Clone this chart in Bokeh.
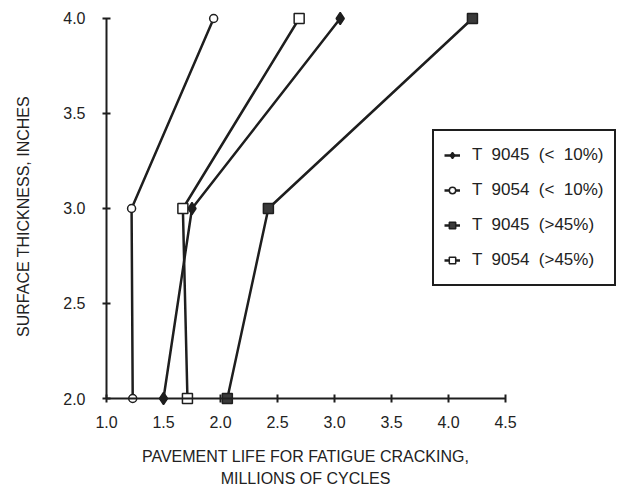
from bokeh.plotting import figure
from bokeh.models import (ColumnDataSource, FixedTicker, NumeralTickFormatter,
                          Legend, LegendItem, Label, Range1d, LinearAxis)
from bokeh.embed import file_html
from bokeh.resources import INLINE
import math

# Surface thickness (inches) for each measured point
thickness = [2.0, 3.0, 4.0]

# Pavement life for fatigue cracking, millions of cycles
t9045_lt10 = [1.50, 1.75, 3.05]
t9054_lt10 = [1.23, 1.22, 1.94]
t9045_gt45 = [2.06, 2.42, 4.21]
t9054_gt45 = [1.71, 1.67, 2.69]

series_labels = ["T  9045  (<  10%)", "T  9054  (<  10%)",
                 "T  9045  (>45%)", "T  9054  (>45%)"]

x_ticks = [1.0, 1.5, 2.0, 2.5, 3.0, 3.5, 4.0, 4.5]
y_ticks = [2.0, 2.5, 3.0, 3.5, 4.0]

INK = "#1e1e1e"
TEXT = "#222222"
FONT = "Liberation Sans"

# The frame fills the whole canvas; the axes sit at fixed data positions.
p = figure(width=625, height=487, output_backend="svg", toolbar_location=None,
           x_range=Range1d(0.0702, 5.5526), y_range=Range1d(1.5316, 4.0947),
           min_border=0, x_axis_location=None, y_axis_location=None)
p.outline_line_color = None
p.xgrid.visible = False
p.ygrid.visible = False
p.background_fill_color = "white"
p.border_fill_color = "white"

xaxis = LinearAxis(fixed_location=2.0, bounds=(1.0, 4.5),
                   ticker=FixedTicker(ticks=x_ticks),
                   formatter=NumeralTickFormatter(format="0.0"))
yaxis = LinearAxis(fixed_location=1.0, bounds=(2.0, 4.0),
                   ticker=FixedTicker(ticks=y_ticks),
                   formatter=NumeralTickFormatter(format="0.0"))
for ax in (xaxis, yaxis):
    ax.axis_line_color = INK
    ax.axis_line_width = 2
    ax.major_tick_line_color = INK
    ax.major_tick_line_width = 2
    ax.major_tick_in = 4
    ax.major_tick_out = 4
    ax.minor_tick_line_color = None
    ax.major_label_text_font = FONT
    ax.major_label_text_font_size = "16px"
    ax.major_label_text_color = TEXT
xaxis.major_label_standoff = 13
yaxis.major_label_standoff = 17
p.add_layout(xaxis, "below")
p.add_layout(yaxis, "left")

styles = [
    dict(marker="diamond", size=12, fill_color=INK),
    dict(marker="circle", size=8, fill_color="white"),
    dict(marker="square", size=10, fill_color="#3a3a3a"),
    dict(marker="square", size=10, fill_color="white"),
]
items = []
for xs, label, st in zip([t9045_lt10, t9054_lt10, t9045_gt45, t9054_gt45],
                         series_labels, styles):
    src = ColumnDataSource(data=dict(x=xs, y=thickness))
    ln = p.line("x", "y", source=src, line_color=INK, line_width=2.5)
    sc = p.scatter("x", "y", source=src, marker=st["marker"], size=st["size"],
                   fill_color=st["fill_color"], line_color=INK, line_width=1.5)
    items.append(LegendItem(label=label, renderers=[ln, sc]))

legend = Legend(items=items, location=(432, 201),
                label_text_font=FONT, label_text_font_size="17px",
                label_text_color=TEXT,
                glyph_width=16, glyph_height=28, label_height=28,
                label_standoff=12, spacing=7, padding=10, margin=0,
                border_line_color=INK, border_line_width=2,
                border_line_alpha=1.0,
                background_fill_color="white", background_fill_alpha=1.0)
p.add_layout(legend, "center")

title_style = dict(text_font=FONT, text_font_size="16px", text_color=TEXT)
p.add_layout(Label(x=0.272, y=2.958, text="SURFACE THICKNESS, INCHES",
                   angle=math.pi / 2, text_align="center",
                   text_baseline="middle", **title_style))
p.add_layout(Label(x=2.746, y=1.695, text="PAVEMENT LIFE FOR FATIGUE CRACKING,",
                   text_align="center", text_baseline="alphabetic", **title_style))
p.add_layout(Label(x=2.746, y=1.579, text="MILLIONS OF CYCLES",
                   text_align="center", text_baseline="alphabetic", **title_style))

open("out.html", "w").write(file_html(p, INLINE))
